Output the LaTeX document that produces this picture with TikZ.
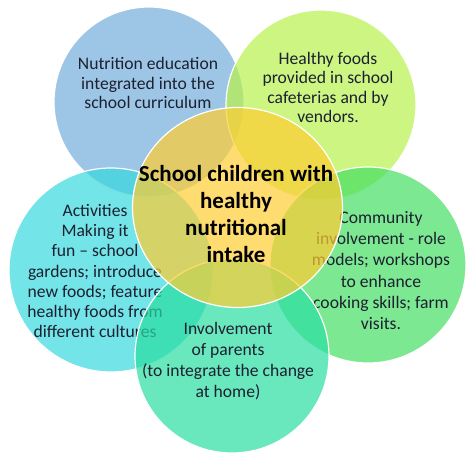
\documentclass[tikz,border=0pt]{standalone}
\usepackage{fontspec}
\setmainfont{Carlito}
\usetikzlibrary{shapes.geometric}
\definecolor{edublue}{RGB}{115,174,219}
\definecolor{foodlime}{RGB}{184,241,76}
\definecolor{actcyan}{RGB}{55,216,222}
\definecolor{comgreen}{RGB}{69,222,98}
\definecolor{parteal}{RGB}{41,222,162}
\definecolor{hubgold}{RGB}{255,205,50}
\definecolor{inkdark}{RGB}{28,32,48}

\begin{document}
\begin{tikzpicture}[x=1pt,y=-1pt,
  disc/.style={circle,draw=white,line width=1.2pt,fill opacity=0.7,inner sep=0pt},
  lbl/.style={align=center,text=inkdark,font=\fontsize{17.6}{19.5}\selectfont},
  hublbl/.style={align=center,text=black,font=\bfseries\fontsize{23}{27}\selectfont}]
\useasboundingbox (0,0) rectangle (474,463);

\node[disc,fill=edublue,minimum size=190pt] (edu) at (149,102) {};
\node[lbl] (edutext) at (148,83) {Nutrition education\\integrated into the\\school curriculum};

\node[disc,fill=foodlime,minimum size=190pt] (food) at (321,105) {};
\node[lbl] (foodtext) at (328,87.5) {Healthy foods\\provided in school\\cafeterias and by\\vendors.};

\node[disc,fill=actcyan,minimum size=204pt] (act) at (111,270) {};
\node[lbl,font=\fontsize{17.6}{20.3}\selectfont] (acttext) at (95,271) {Activities\\Making it\\fun -- school\\gardens; introduce\\new foods; feature\\healthy foods from\\different cultures};

\node[disc,fill=comgreen,minimum size=196pt] (com) at (368,265) {};
\node[lbl,font=\fontsize{17.6}{21.2}\selectfont] (comtext) at (381,270.5) {Community\\involvement - role\\models; workshops\\to enhance\\cooking skills; farm\\visits.};

\node[disc,fill=parteal,minimum size=194pt] (par) at (232,356) {};
\node[lbl,font=\fontsize{17.6}{21}\selectfont] (partext) at (228,361.5) {Involvement\\of parents\\(to integrate the change\\at home)};

\node[ellipse,draw=white,line width=1.2pt,fill=hubgold,fill opacity=0.7,inner sep=0pt,minimum width=210pt,minimum height=200pt] (hub) at (237.5,207.5) {};
\node[hublbl] (hubtext) at (236,214.5) {School children with\\healthy\\nutritional\\intake};
\end{tikzpicture}
\end{document}
